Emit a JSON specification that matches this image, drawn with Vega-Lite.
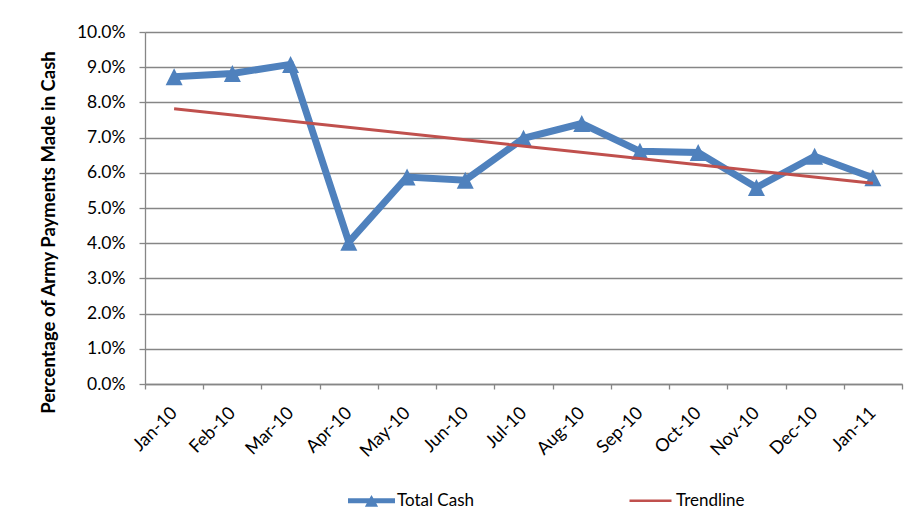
{
  "$schema": "https://vega.github.io/schema/vega-lite/v6.json",
  "width": 757,
  "height": 352,
  "autosize": "none",
  "padding": {"left": 145, "top": 32, "right": 10, "bottom": 147},
  "background": "white",
  "config": {
    "view": {"stroke": null},
    "font": "Lato",
    "axis": {"labelFont": "Lato", "titleFont": "Lato", "labelColor": "#000000", "titleColor": "#000000"}
  },
  "data": {
    "values": [
      {"month": "Jan-10", "series": "Total Cash", "value": 0.0873},
      {"month": "Feb-10", "series": "Total Cash", "value": 0.0882},
      {"month": "Mar-10", "series": "Total Cash", "value": 0.0908},
      {"month": "Apr-10", "series": "Total Cash", "value": 0.0403},
      {"month": "May-10", "series": "Total Cash", "value": 0.0588},
      {"month": "Jun-10", "series": "Total Cash", "value": 0.0579},
      {"month": "Jul-10", "series": "Total Cash", "value": 0.0698},
      {"month": "Aug-10", "series": "Total Cash", "value": 0.0740},
      {"month": "Sep-10", "series": "Total Cash", "value": 0.0661},
      {"month": "Oct-10", "series": "Total Cash", "value": 0.0658},
      {"month": "Nov-10", "series": "Total Cash", "value": 0.0558},
      {"month": "Dec-10", "series": "Total Cash", "value": 0.0647},
      {"month": "Jan-11", "series": "Total Cash", "value": 0.0586},
      {"month": "Jan-10", "series": "Trendline", "value": 0.0782},
      {"month": "Jan-11", "series": "Trendline", "value": 0.0570}
    ]
  },
  "encoding": {
    "x": {
      "field": "month",
      "type": "ordinal",
      "sort": ["Jan-10", "Feb-10", "Mar-10", "Apr-10", "May-10", "Jun-10", "Jul-10", "Aug-10", "Sep-10", "Oct-10", "Nov-10", "Dec-10", "Jan-11"],
      "bandPosition": 0.5,
      "scale": {"type": "band", "paddingInner": 0, "paddingOuter": 0},
      "axis": {
        "title": null,
        "labelAngle": -45,
        "labelAlign": "right",
        "labelBaseline": "middle",
        "labelFontSize": 18,
        "labelPadding": 21,
        "labelOverlap": false,
        "tickBand": "extent",
        "tickSize": 5,
        "tickColor": "#868686",
        "tickWidth": 1.3,
        "domainColor": "#868686",
        "domainWidth": 1.3,
        "grid": false
      }
    },
    "y": {
      "field": "value",
      "type": "quantitative",
      "scale": {"domain": [0, 0.1], "nice": false},
      "axis": {
        "format": ".1%",
        "values": [0, 0.01, 0.02, 0.03, 0.04, 0.05, 0.06, 0.07, 0.08, 0.09, 0.1],
        "labelOverlap": false,
        "labelFontSize": 17.5,
        "labelPadding": 14,
        "tickSize": 6,
        "tickColor": "#868686",
        "tickWidth": 1.3,
        "domainColor": "#868686",
        "domainWidth": 1.3,
        "gridColor": "#868686",
        "gridWidth": 1.4,
        "title": "Percentage of Army Payments Made in Cash",
        "titleFontSize": 18.5,
        "titleFontWeight": "bold",
        "titleAngle": -90,
        "titleAlign": "center",
        "titleBaseline": "alphabetic",
        "titleX": -91,
        "titleY": 200
      }
    }
  },
  "layer": [
    {
      "transform": [{"filter": "datum.series == 'Total Cash'"}],
      "mark": {"type": "line", "strokeWidth": 7, "strokeJoin": "miter", "strokeMiterLimit": 4},
      "encoding": {
        "color": {
          "field": "series",
          "type": "nominal",
          "scale": {"domain": ["Total Cash", "Trendline"], "range": ["#4F81BD", "#C0504D"]},
          "legend": {
            "title": null,
            "orient": "none",
            "direction": "horizontal",
            "legendX": 203,
            "legendY": 445,
            "padding": 0,
            "symbolSize": 2209,
            "symbolStrokeWidth": 0,
            "labelFont": "Lato",
            "labelFontSize": 17,
            "labelColor": "#000000",
            "labelOffset": 2,
            "columnPadding": 152,
            "encode": {
              "symbols": {
                "update": {
                  "shape": {"signal": "datum.value == 'Total Cash' ? 'M-1,-0.106L-0.08,-0.106L0,-0.25L0.08,-0.106L1,-0.106L1,0.106L0.2,0.106L0.28,0.25L-0.28,0.25L-0.2,0.106L-1,0.106Z' : 'M-0.894,-0.057L0.894,-0.057L0.894,0.057L-0.894,0.057Z'"},
                  "fill": {"signal": "datum.value == 'Total Cash' ? '#4F81BD' : '#C0504D'"},
                  "fillOpacity": {"value": 1},
                  "opacity": {"value": 1},
                  "strokeWidth": {"value": 0}
                }
              }
            }
          }
        }
      }
    },
    {
      "transform": [{"filter": "datum.series == 'Total Cash'"}],
      "mark": {"type": "point", "shape": "M0,-1L1,1L-1,1Z", "size": 289, "filled": true, "opacity": 1, "color": "#4F81BD"}
    },
    {
      "transform": [{"filter": "datum.series == 'Trendline'"}],
      "mark": {"type": "line", "strokeWidth": 3},
      "encoding": {
        "color": {"field": "series", "type": "nominal"}
      }
    }
  ]
}
